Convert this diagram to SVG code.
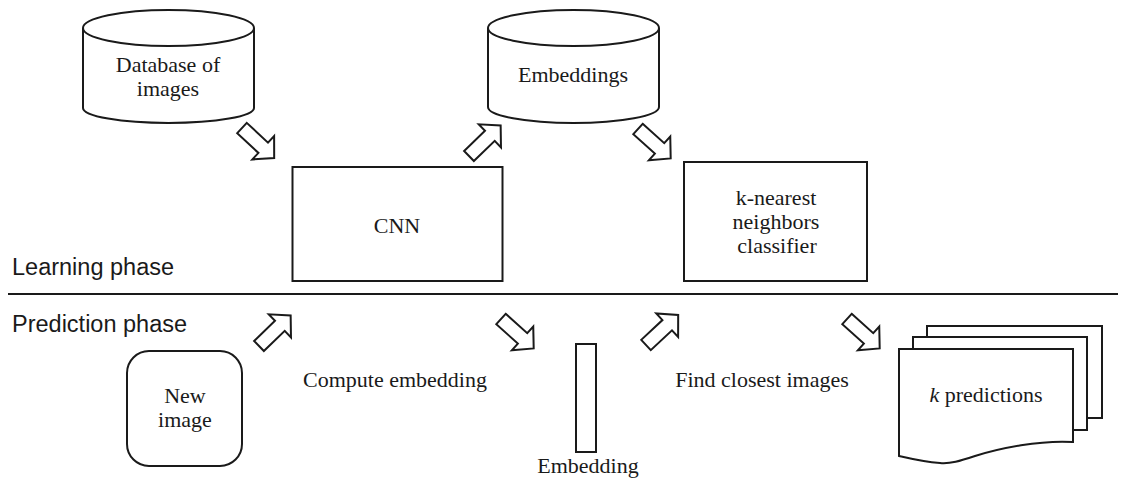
<svg xmlns="http://www.w3.org/2000/svg" xmlns:xlink="http://www.w3.org/1999/xlink" width="1124" height="479" viewBox="0 0 1124 479">
<style>
.sh{fill:#fff;stroke:#1a1a1a;stroke-width:2}
.t{font-family:"Liberation Serif","Times New Roman",serif;font-size:22px;fill:#1a1a1a;text-anchor:middle}
.ph{font-family:"Liberation Sans",Arial,sans-serif;font-size:23.5px;fill:#1a1a1a}
.ar{fill:#fff;stroke:#1a1a1a;stroke-width:2;stroke-linejoin:miter}
</style>
<defs>
<path id="blk" d="M0,-7 L29,-7 L29,-16 L44,0 L29,16 L29,7 L0,7 Z"/>
</defs>
<rect width="1124" height="479" fill="#fff"/>
<line x1="8" y1="294" x2="1118" y2="294" stroke="#1a1a1a" stroke-width="2"/>
<text class="ph" x="12" y="275">Learning phase</text>
<text class="ph" x="12" y="332">Prediction phase</text>
<g id="database">
<path class="sh" d="M83,28 V108 A85.5,15 0 0 0 254,108 V28"/>
<ellipse class="sh" cx="168.5" cy="28" rx="85.5" ry="18"/>
<text class="t" x="168" y="72">Database of</text>
<text class="t" x="168" y="96">images</text>
</g>
<g id="embeddings">
<path class="sh" d="M488,28 V107 A85.5,16 0 0 0 659,107 V28"/>
<ellipse class="sh" cx="573.5" cy="28" rx="85.5" ry="18"/>
<text class="t" x="573" y="82">Embeddings</text>
</g>
<g id="cnn">
<rect class="sh" x="292.5" y="167" width="210" height="114"/>
<text class="t" x="397" y="233">CNN</text>
</g>
<g id="knn">
<rect class="sh" x="684" y="162" width="183" height="119"/>
<text class="t" x="776" y="205">k-nearest</text>
<text class="t" x="776" y="229">neighbors</text>
<text class="t" x="777" y="253">classifier</text>
</g>
<g id="new-image">
<rect class="sh" x="127" y="351" width="115" height="115" rx="22" ry="22"/>
<text class="t" x="185" y="403">New</text>
<text class="t" x="185" y="427">image</text>
</g>
<g id="embedding">
<rect class="sh" x="576" y="344" width="20" height="108"/>
<text class="t" x="588" y="473">Embedding</text>
</g>
<g id="predictions">
<rect class="sh" x="927" y="326" width="175" height="92"/>
<rect class="sh" x="913" y="337" width="174" height="93"/>
<path class="sh" d="M899,349 H1073 V442 C1040,440 1000,448 975,456 C960,461 950,464 940,463 C925,462 912,459 899,456 Z"/>
<text class="t" x="986" y="402"><tspan font-style="italic">k</tspan> predictions</text>
</g>
<text class="t" x="395" y="387">Compute embedding</text>
<text class="t" x="762" y="387">Find closest images</text>
<g id="connectors">
<use xlink:href="#blk" class="ar" transform="translate(242,128) rotate(43)"/>
<use xlink:href="#blk" class="ar" transform="translate(469,156) rotate(-44)"/>
<use xlink:href="#blk" class="ar" transform="translate(638,129) rotate(42)"/>
<use xlink:href="#blk" class="ar" transform="translate(259,346) rotate(-44)"/>
<use xlink:href="#blk" class="ar" transform="translate(501,319) rotate(42)"/>
<use xlink:href="#blk" class="ar" transform="translate(646,345) rotate(-43)"/>
<use xlink:href="#blk" class="ar" transform="translate(847,319) rotate(42)"/>
</g>
</svg>
